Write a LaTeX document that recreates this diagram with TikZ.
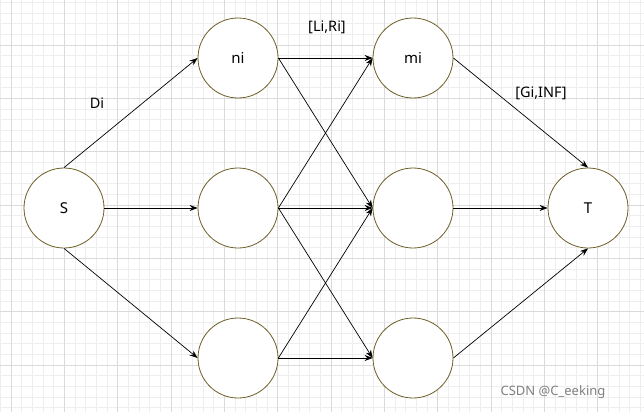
\documentclass[tikz,border=0pt]{standalone}
\usepackage{fontspec}
\setmainfont{Noto Sans}
\usetikzlibrary{arrows.meta}
\definecolor{nodeb}{RGB}{110,95,40}
\definecolor{gminor}{RGB}{238,238,238}
\definecolor{gmajor}{RGB}{218,218,218}
\begin{document}
\begin{tikzpicture}[x=1pt,y=-1pt,
  nd/.style={circle,draw=nodeb,fill=white,line width=0.8pt,minimum size=80pt,inner sep=0pt,font=\fontsize{15}{18}\selectfont},
  ar/.style={draw=black,line width=0.7pt,-{Stealth[length=8pt,width=6pt]}},
  lb/.style={font=\fontsize{14.5}{17}\selectfont}]
\useasboundingbox (0,0) rectangle (644,412);
\fill[white] (0,0) rectangle (644,412);
\foreach \i in {-1,...,61} {\draw[gminor,line width=0.6pt] ({11+\i*10.667},0) -- ({11+\i*10.667},412);}
\foreach \i in {-5,...,35} {\draw[gminor,line width=0.6pt] (0,{45+\i*10.667}) -- (644,{45+\i*10.667});}
\foreach \i in {0,...,12} {\draw[gmajor,line width=0.6pt] ({11+\i*53.33},0) -- ({11+\i*53.33},412);}
\foreach \i in {-1,...,7} {\draw[gmajor,line width=0.6pt] (0,{45+\i*53.33}) -- (644,{45+\i*53.33});}
\node[nd] (S) at (64,208) {S};
\node[nd] (n1) at (238,58) {ni};
\node[nd] (n2) at (238,208) {};
\node[nd] (n3) at (238,358) {};
\node[nd] (m1) at (413,58) {mi};
\node[nd] (m2) at (413,208) {};
\node[nd] (m3) at (413,358) {};
\node[nd] (T) at (588,208) {T};
\draw[ar] (S.north) -- (n1.west);
\draw[ar] (S.east) -- (n2.west);
\draw[ar] (S.south) -- (n3.west);
\draw[ar] (n1.east) -- (m1.west);
\draw[ar] (n1.east) -- (m2.west);
\draw[ar] (n2.east) -- (m1.west);
\draw[ar] (n2.east) -- (m2.west);
\draw[ar] (n2.east) -- (m3.west);
\draw[ar] (n3.east) -- (m2.west);
\draw[ar] (n3.east) -- (m3.west);
\draw[ar] (m1.east) -- (T.north);
\draw[ar] (m2.east) -- (T.west);
\draw[ar] (m3.east) -- (T.south);
\node[lb] (l1) at (97,103) {Di};
\node[lb] (l2) at (327,27) {[Li,Ri]};
\node[lb] (l3) at (541,93) {[Gi,INF]};
\node[font=\fontsize{13}{15}\selectfont,text=gray] (w) at (553,392) {CSDN @C\_eeking};
\end{tikzpicture}
\end{document}
